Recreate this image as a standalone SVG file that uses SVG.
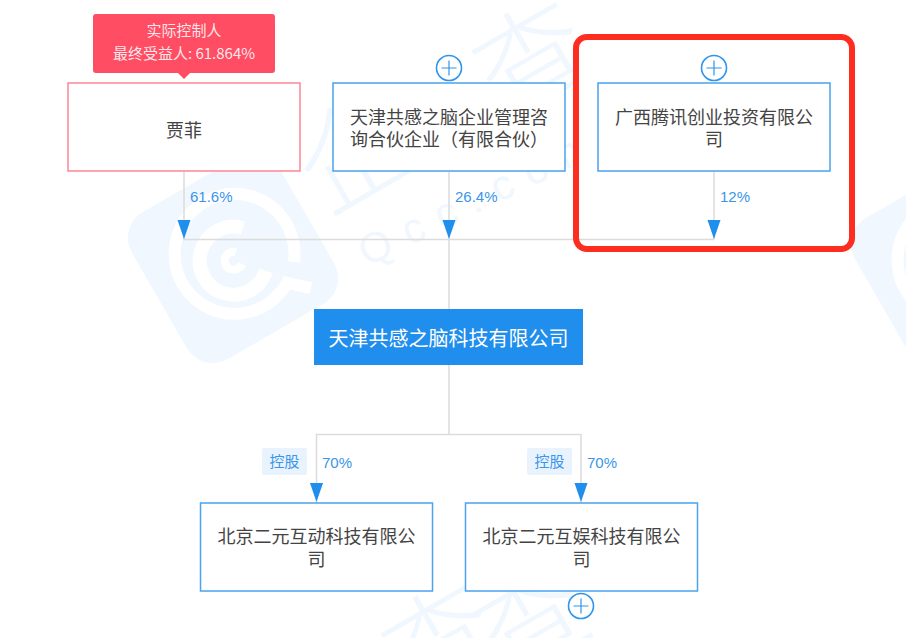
<svg xmlns="http://www.w3.org/2000/svg" width="906" height="638" viewBox="0 0 906 638">
<style>
text{font-family:"Noto Sans CJK SC","Liberation Sans",sans-serif;text-anchor:middle}
.box{fill:#fff;stroke:#4aa3ee;stroke-width:1.5}
.name{font-size:18px;fill:#444}
.pct{font-family:"Liberation Sans","Noto Sans CJK SC",sans-serif;font-size:15px;fill:#3b95ea;text-anchor:start}
.line{fill:none;stroke:#dcdcdc;stroke-width:1.5}
.arrow{fill:#208eec}
.wm{fill:#f0f7fe}
.wmt{fill:#f0f7fe;font-size:110px;font-weight:300}
.ring{fill:none;stroke:#fff;stroke-linecap:butt}
.plus{fill:#fff;stroke:#2f95ec;stroke-width:1.6}
.cross{stroke:#2f95ec;stroke-width:1.2}
.tag{fill:#e9f3fd}
.tagt{font-size:15px;fill:#3b95ea}
.tip{font-size:15px;fill:#fff;fill-opacity:.88}
</style>
<defs>
<g id="logo">
<rect x="-85" y="-85" width="170" height="170" rx="30" class="wm" transform="translate(0 -3) rotate(-30)"/>
<path class="ring" stroke-width="12" d="M61 1A60 60 0 1 0 54 22L78 27"/>
<path class="ring" stroke-width="14" d="M10 -33A34 34 0 1 0 33 10"/>
<path class="ring" stroke-width="8" d="M3 -9A9 9 0 1 0 9 3"/>
</g>
<g id="plus"><circle r="12.5" class="plus"/><path class="cross" d="M-7.500 0H7.500M0 -7.500V7.500"/></g>
<path id="tri" class="arrow" d="M-6.500 -19H6.500L0 0Z"/>
</defs>

<g id="watermark">
<use href="#logo" x="233" y="261"/>
<use href="#logo" x="956" y="267"/>
<text class="wmt" transform="translate(373,189) rotate(-30)">企</text>
<text class="wmt" transform="translate(552,93) rotate(-30)">查</text>
<text class="wmt" transform="translate(461,676) rotate(-30)">查</text>
<text class="wmt" transform="translate(551,656) rotate(-30)">查</text>
<text transform="translate(367,267) rotate(-26)" style="font-family:'Liberation Sans',sans-serif;font-size:42px;letter-spacing:15px;fill:#f0f7fe;text-anchor:start">Qcc.com</text>
</g>

<rect id="highlight-bg" x="576" y="37" width="276" height="212" rx="11" fill="#fff"/>

<g id="connectors">
<path class="line" d="M184 172V239.500H714M449 172V309M714 172V239.500M449 365V434.500M316.500 503V434.500H581V503"/>
<use href="#tri" x="184" y="239"/>
<use href="#tri" x="449" y="239"/>
<use href="#tri" x="714" y="239"/>
<use href="#tri" x="316.500" y="502"/>
<use href="#tri" x="581" y="502"/>
<text class="pct" x="190" y="202">61.6%</text>
<text class="pct" x="455" y="202">26.4%</text>
<text class="pct" x="720" y="202">12%</text>
<text class="pct" x="322" y="468">70%</text>
<text class="pct" x="587" y="468">70%</text>
<g id="tag-1"><rect class="tag" x="262" y="448" width="45" height="27" rx="2"/><text class="tagt" x="284.500" y="467">控股</text></g>
<g id="tag-2"><rect class="tag" x="527" y="448" width="45" height="27" rx="2"/><text class="tagt" x="549.500" y="467">控股</text></g>
</g>

<g id="node-jiafei">
<rect x="68" y="83" width="232" height="88" fill="#fff" stroke="#fe8597" stroke-width="1.5"/>
<text class="name" x="184" y="137">贾菲</text>
<path d="M96 14H272A3 3 0 0 1 275 17V70A3 3 0 0 1 272 73H190L184 79L178 73H96A3 3 0 0 1 93 70V17A3 3 0 0 1 96 14Z" fill="#ff4d64"/>
<text class="tip" x="184" y="36">实际控制人</text>
<text class="tip" x="184" y="59">最终受益人: 61.864%</text>
</g>

<g id="node-gongganpartner">
<rect class="box" x="333" y="83" width="232" height="88"/>
<text class="name" x="449" y="124">天津共感之脑企业管理咨</text>
<text class="name" x="350" y="146" style="text-anchor:start">询合伙企业（有限合伙）</text>
<use href="#plus" x="449" y="68"/>
</g>

<g id="node-tengxun">
<rect class="box" x="598" y="83" width="232" height="88"/>
<text class="name" x="714" y="124">广西腾讯创业投资有限公</text>
<text class="name" x="714" y="146">司</text>
<use href="#plus" x="714" y="68"/>
</g>

<g id="node-gonggan">
<rect x="314" y="309" width="269" height="56" fill="#208eec"/>
<text x="448.500" y="346" font-size="20" fill="#fff">天津共感之脑科技有限公司</text>
</g>

<g id="node-hudong">
<rect class="box" x="200.500" y="503" width="232" height="88"/>
<text class="name" x="316.500" y="543">北京二元互动科技有限公</text>
<text class="name" x="316.500" y="566">司</text>
</g>

<g id="node-huyu">
<rect class="box" x="465.500" y="503" width="232" height="88"/>
<text class="name" x="581.500" y="543">北京二元互娱科技有限公</text>
<text class="name" x="581.500" y="566">司</text>
<use href="#plus" x="581" y="606"/>
</g>

<rect id="highlight" x="576" y="37" width="276" height="212" rx="11" fill="none" stroke="#fd2d20" stroke-width="6"/>
</svg>
